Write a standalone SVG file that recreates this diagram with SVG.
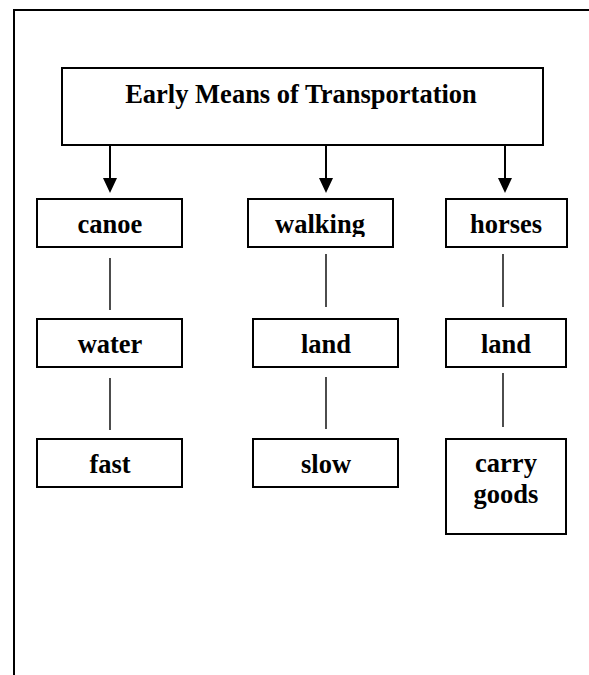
<svg xmlns="http://www.w3.org/2000/svg" width="589" height="675" viewBox="0 0 589 675">
  <style>
    .box { fill: #ffffff; stroke: #000000; stroke-width: 2; }
    .lbl { font-family: "Liberation Serif", "Times New Roman", serif; font-weight: bold; font-size: 26.5px; fill: #000000; text-anchor: middle; }
    .frame { stroke: #000000; stroke-width: 2; fill: none; }
    .arrow { stroke: #000000; stroke-width: 2; fill: none; }
    .head { fill: #000000; }
    .link { stroke: #000000; stroke-width: 1.4; fill: none; }
  </style>
  <defs>
    <clipPath id="clipWalk">
      <rect x="248" y="199" width="146" height="38"/>
    </clipPath>
  </defs>
  <rect x="0" y="0" width="589" height="675" fill="#ffffff"/>
  <g id="frame">
    <path class="frame" d="M14,675 L14,10 L589,10"/>
  </g>
  <g id="connectors">
    <line class="arrow" x1="110" y1="145" x2="110" y2="178"/>
    <path class="head" d="M103,178 L117,178 L110,193 Z"/>
    <line class="arrow" x1="326" y1="145" x2="326" y2="178"/>
    <path class="head" d="M319,178 L333,178 L326,193 Z"/>
    <line class="arrow" x1="505" y1="145" x2="505" y2="178"/>
    <path class="head" d="M498,178 L512,178 L505,193 Z"/>
    <line class="link" x1="110" y1="258" x2="110" y2="310"/>
    <line class="link" x1="110" y1="378" x2="110" y2="430"/>
    <line class="link" x1="326" y1="254" x2="326" y2="307"/>
    <line class="link" x1="326" y1="377" x2="326" y2="429"/>
    <line class="link" x1="503" y1="254" x2="503" y2="307"/>
    <line class="link" x1="503" y1="373" x2="503" y2="427"/>
  </g>
  <g id="title">
    <rect class="box" x="62" y="68" width="481" height="77"/>
    <text class="lbl" x="301" y="103">Early Means of Transportation</text>
  </g>
  <g id="canoe">
    <rect class="box" x="37" y="199" width="145" height="48"/>
    <text class="lbl" x="110" y="233">canoe</text>
  </g>
  <g id="walking">
    <rect class="box" x="248" y="199" width="145" height="48"/>
    <text class="lbl" x="320" y="233" clip-path="url(#clipWalk)">walking</text>
  </g>
  <g id="horses">
    <rect class="box" x="446" y="199" width="121" height="48"/>
    <text class="lbl" x="506" y="233">horses</text>
  </g>
  <g id="water">
    <rect class="box" x="37" y="319" width="145" height="48"/>
    <text class="lbl" x="110" y="353">water</text>
  </g>
  <g id="land1">
    <rect class="box" x="253" y="319" width="145" height="48"/>
    <text class="lbl" x="326" y="353">land</text>
  </g>
  <g id="land2">
    <rect class="box" x="446" y="319" width="120" height="48"/>
    <text class="lbl" x="506" y="353">land</text>
  </g>
  <g id="fast">
    <rect class="box" x="37" y="439" width="145" height="48"/>
    <text class="lbl" x="110" y="473">fast</text>
  </g>
  <g id="slow">
    <rect class="box" x="253" y="439" width="145" height="48"/>
    <text class="lbl" x="326" y="473">slow</text>
  </g>
  <g id="carrygoods">
    <rect class="box" x="446" y="439" width="120" height="95"/>
    <text class="lbl" x="506" y="472">carry</text>
    <text class="lbl" x="506" y="503">goods</text>
  </g>
</svg>
